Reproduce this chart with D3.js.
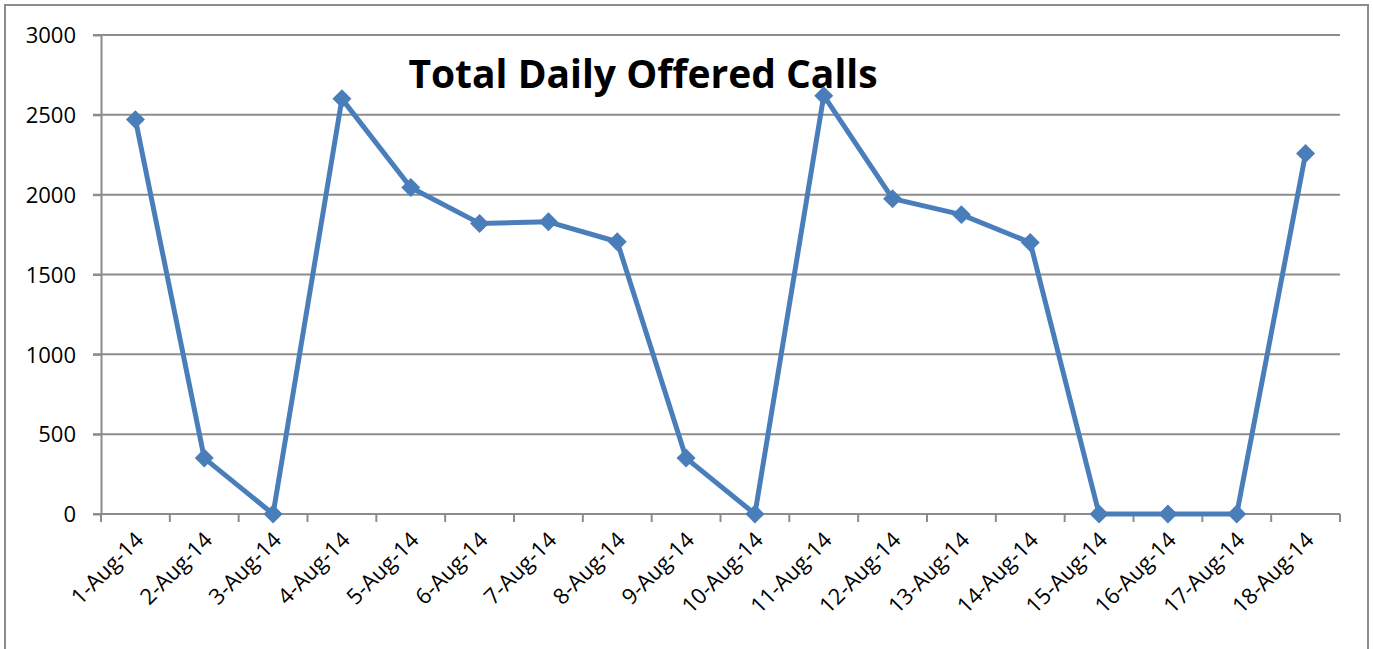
<!DOCTYPE html>
<html>
<head>
<meta charset="utf-8">
<script src="https://cdn.jsdelivr.net/npm/d3@7"></script>
<style>
  body { margin: 0; background: #fff; }
  svg { display: block; font-family: "Open Sans", "Liberation Sans", sans-serif; }
  .grid line { stroke: #8c8c8c; stroke-width: 2; }
  .axis path, .axis line { stroke: #8c8c8c; stroke-width: 2; }
  .axis text { fill: #000; }
</style>
</head>
<body>
<svg class="chart" width="1373" height="649"></svg>
<script>
const days = ['1-Aug-14', '2-Aug-14', '3-Aug-14', '4-Aug-14', '5-Aug-14', '6-Aug-14',
  '7-Aug-14', '8-Aug-14', '9-Aug-14', '10-Aug-14', '11-Aug-14', '12-Aug-14',
  '13-Aug-14', '14-Aug-14', '15-Aug-14', '16-Aug-14', '17-Aug-14', '18-Aug-14']
const calls = [2470, 350, 0, 2600, 2045, 1820, 1830, 1705, 350, 0, 2620, 1975,
  1875, 1700, 0, 0, 0, 2258]
const yTicks = [0, 500, 1000, 1500, 2000, 2500, 3000]
const title = 'Total Daily Offered Calls'

const svg = d3.select('.chart')
const plotLeft = 101
const plotRight = 1340
const plotTop = 35
const plotBottom = 514
const labelFont = '"Open Sans", "Liberation Sans", sans-serif'

// outer chart border
svg.append('rect')
  .attr('x', 5).attr('y', 5)
  .attr('width', 1363).attr('height', 660)
  .attr('fill', 'none')
  .attr('stroke', '#8c8c8c')
  .attr('stroke-width', 2)

const x = d3.scaleBand().domain(days).range([plotLeft, plotRight])
const y = d3.scaleLinear().domain([0, 3000]).range([plotBottom, plotTop])

// horizontal gridlines, also the y tick marks
svg.append('g')
  .attr('class', 'grid')
  .selectAll('line')
  .data(yTicks.filter(d => d > 0))
  .enter()
  .append('line')
  .attr('x1', plotLeft - 8)
  .attr('x2', plotRight)
  .attr('y1', d => y(d))
  .attr('y2', d => y(d))

const yAxis = svg.append('g')
  .attr('class', 'axis')
  .attr('transform', `translate(${plotLeft},0)`)
  .call(d3.axisLeft(y).tickValues(yTicks).tickFormat(d3.format('d'))
    .tickSize(8).tickSizeOuter(0).tickPadding(17))
  .attr('font-family', labelFont)
  .attr('font-size', 22)
yAxis.selectAll('text').attr('dy', '0.35em')

// x axis: ticks sit on band edges
const xAxis = svg.append('g')
  .attr('class', 'axis')
  .attr('transform', `translate(0,${plotBottom})`)
  .attr('font-family', labelFont)
  .attr('font-size', 22)
xAxis.append('line')
  .attr('x1', plotLeft - 8).attr('x2', plotRight)
xAxis.selectAll('.edge')
  .data(d3.range(days.length + 1))
  .enter()
  .append('line')
  .attr('class', 'edge')
  .attr('x1', i => plotLeft + i * x.step())
  .attr('x2', i => plotLeft + i * x.step())
  .attr('y1', 0).attr('y2', 8)
xAxis.selectAll('text')
  .data(days)
  .enter()
  .append('text')
  .attr('transform', d => `translate(${x(d) + x.bandwidth() / 2 + 4},${22}) rotate(-45)`)
  .attr('text-anchor', 'end')
  .attr('dy', '0.35em')
  .text(d => d)

const cx = d => x(d) + x.bandwidth() / 2
const line = d3.line()
  .x((d, i) => cx(days[i]))
  .y(d => y(d))

svg.append('path')
  .datum(calls)
  .attr('fill', 'none')
  .attr('stroke', '#4a7ebb')
  .attr('stroke-width', 5)
  .attr('stroke-linejoin', 'round')
  .attr('d', line)

svg.selectAll('.marker')
  .data(calls)
  .enter()
  .append('path')
  .attr('class', 'marker')
  .attr('fill', '#4a7ebb')
  .attr('d', d3.symbol().type(d3.symbolDiamond2).size(230))
  .attr('transform', (d, i) => `translate(${cx(days[i])},${y(d)})`)

svg.append('text')
  .attr('x', 643)
  .attr('y', 88)
  .attr('text-anchor', 'middle')
  .attr('font-size', 39)
  .attr('font-weight', 'bold')
  .text(title)
</script>
</body>
</html>
